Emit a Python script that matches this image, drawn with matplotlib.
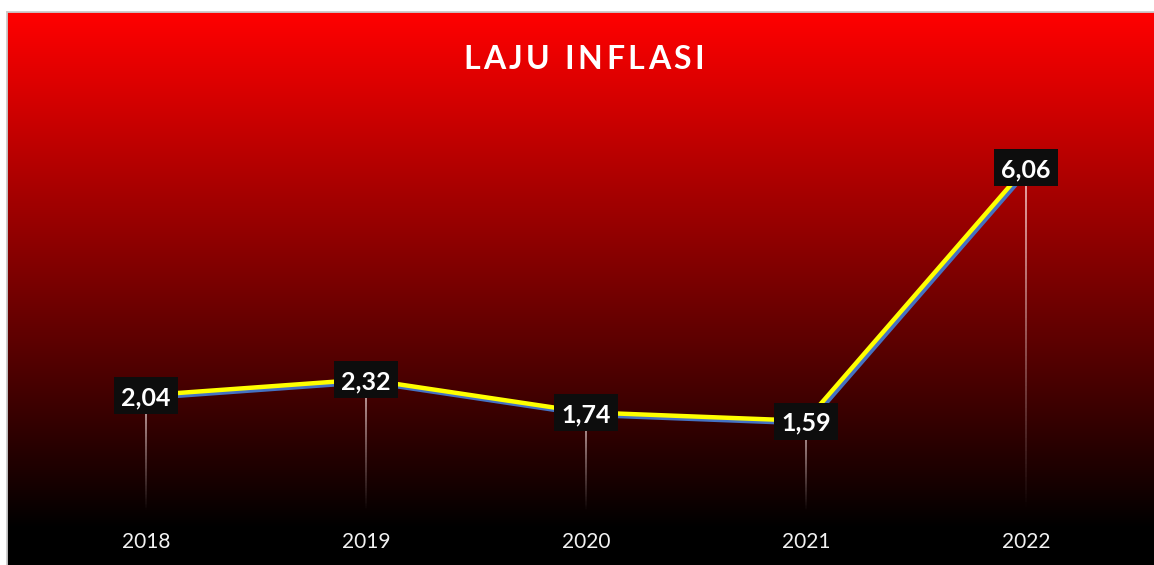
import numpy as np
import matplotlib
matplotlib.use('Agg')
import matplotlib.pyplot as plt
from matplotlib.path import Path
from matplotlib.collections import LineCollection
from matplotlib.lines import Line2D
from matplotlib.colors import LinearSegmentedColormap
from matplotlib.font_manager import FontProperties
from matplotlib.textpath import TextToPath
import matplotlib.transforms as mtransforms

# ---- data ----
years = ['2018', '2019', '2020', '2021', '2022']
inflation = [2.04, 2.32, 1.74, 1.59, 6.06]
value_labels = ['2,04', '2,32', '1,74', '1,59', '6,06']
title = 'LAJU INFLASI'

W, H, DPI = 1154, 565, 100
fig = plt.figure(figsize=(W / DPI, H / DPI), dpi=DPI, facecolor='white')


def fx(px):
    return px / W


def fy(py):
    return 1 - py / H


# ---- gradient background (extends past right/bottom edges) ----
top_px, left_px = 12, 7
bottom_px, right_px = H + 10, W + 10
bg = fig.add_axes([fx(left_px), fy(bottom_px), (right_px - left_px) / W, (bottom_px - top_px) / H])
cmap = LinearSegmentedColormap.from_list('redblack', ['#000000', '#ff0000'])
edges = np.arange(top_px, bottom_px + 1, 1.0)
centers = edges[:-1] + 0.5
level = np.clip(1 - (centers - top_px) / (528 - top_px), 0, 1)
bg.pcolormesh([0, 1], -edges, level[:, None], cmap=cmap, vmin=0, vmax=1,
              shading='flat', antialiased=False, edgecolors='none')
bg.set_xlim(0, 1)
bg.set_ylim(-bottom_px, -top_px)
bg.set_axis_off()
# thin grey frame on top and left only
fig.add_artist(Line2D([fx(left_px - 0.5), 1.01], [fy(top_px - 0.5)] * 2, transform=fig.transFigure,
                      color='#cccccc', lw=1.3, zorder=10))
fig.add_artist(Line2D([fx(left_px - 0.5)] * 2, [-0.01, fy(top_px - 0.5)], transform=fig.transFigure,
                      color='#cccccc', lw=1.3, zorder=10))

# ---- main axes ----
ax = fig.add_axes([fx(36), fy(511), (1136 - 36) / W, (511 - 114) / H])
ax.set_facecolor('none')
for s in ax.spines.values():
    s.set_visible(False)
ax.set_xlim(-0.5, len(years) - 0.5)
ax.set_ylim(0, 7)
x = np.arange(len(years))

# drop lines (fading)
N = 80
for xi, yi in zip(x, inflation):
    ys = np.linspace(yi, 0, N + 1)
    segs = [[(xi, ys[k]), (xi, ys[k + 1])] for k in range(N)]
    alphas = np.linspace(0.9, 0.0, N)
    cols = [(1, 0.93, 0.93, a) for a in alphas]
    ax.add_collection(LineCollection(segs, colors=cols, linewidths=1.1, zorder=2))

# line with shadow
shadow_tr = ax.transData + mtransforms.ScaledTranslation(2.4 / DPI, -2.6 / DPI, fig.dpi_scale_trans)
ax.plot(x, inflation, color='#4472C4', lw=3.2, transform=shadow_tr, zorder=3, solid_joinstyle='miter')
ax.plot(x, inflation, color='#FFFF00', lw=3.2, zorder=4, solid_joinstyle='miter')

# label boxes as rectangle markers
box = Path([(-32, -18.5), (32, -18.5), (32, 18.5), (-32, 18.5), (-32, -18.5)],
           [Path.MOVETO, Path.LINETO, Path.LINETO, Path.LINETO, Path.CLOSEPOLY])
ax.plot(x, inflation, ls='none', marker=box, markersize=64 * 72 / DPI,
        markerfacecolor='#0d0d0d', markeredgewidth=0, zorder=5)
for xi, yi, lab in zip(x, inflation, value_labels):
    ax.annotate(lab, (xi, yi), xytext=(0, -10), textcoords='offset pixels',
                ha='center', va='baseline', color='white', fontsize=18,
                fontweight='bold', family='Lato', zorder=6)

ax.set_xticks(x, years)
ax.set_yticks([])
ax.tick_params(axis='x', length=0, pad=15, labelcolor='#f2f2f2', labelsize=15)
for t in ax.get_xticklabels():
    t.set_family('Lato')

# ---- title with letter spacing ----
prop = FontProperties(family='Lato', weight='bold', size=23)
ttp = TextToPath()


def wpx(s):
    return ttp.get_text_width_height_descent(s, prop, ismath=False)[0] * DPI / 72


target_left, target_right, baseline = 463, 704, 69
n = len(title)
spacing = ((target_right - target_left) - wpx(title)) / (n - 1)
for i, ch in enumerate(title):
    if ch == ' ':
        continue
    xpos = target_left + wpx(title[:i + 1]) - wpx(ch) + i * spacing
    fig.text(fx(xpos), fy(baseline), ch, fontproperties=prop, color='white',
             ha='left', va='baseline')

fig.savefig('out.png', dpi=DPI, facecolor='white')
